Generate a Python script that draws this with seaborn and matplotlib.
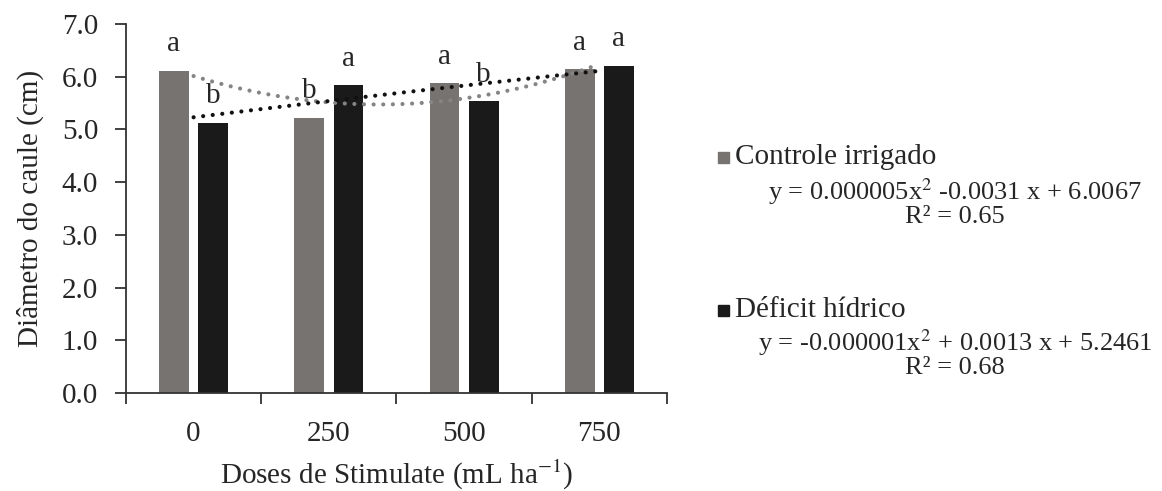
import numpy as np
import pandas as pd
import matplotlib
matplotlib.use("Agg")
import matplotlib.pyplot as plt
from matplotlib.patches import Rectangle
import seaborn as sns

# ---- data ----
doses = ["0", "250", "500", "750"]
controle = [6.11, 5.22, 5.88, 6.14]
deficit = [5.13, 5.84, 5.53, 6.21]
letras_controle = ["a", "b", "a", "a"]
letras_deficit = ["b", "a", "b", "a"]
series_names = ["Controle irrigado", "Déficit hídrico"]
eq_controle = "y = 0.000005x$^{2}$ -0.0031 x + 6.0067"
r2_controle = "R² = 0.65"
eq_deficit = "y = -0.000001x$^{2}$ + 0.0013 x + 5.2461"
r2_deficit = "R² = 0.68"
y_ticks = [0.0, 1.0, 2.0, 3.0, 4.0, 5.0, 6.0, 7.0]

colors = ["#777371", "#1a1a1a"]
trend_colors = ["#858585", "#111111"]

sns.set_theme(style="white")
plt.rcParams["font.family"] = ["Liberation Serif", "DejaVu Serif"]
plt.rcParams["mathtext.fontset"] = "stix"

df = pd.DataFrame({
    "dose": doses * 2,
    "valor": controle + deficit,
    "serie": [series_names[0]] * 4 + [series_names[1]] * 4,
})

fig = plt.figure(figsize=(11.62, 4.91), dpi=100)
ax = fig.add_axes([0.1084, 0.1996, 0.4656, 0.7515])

sns.barplot(data=df, x="dose", y="valor", hue="serie", palette=colors,
            width=0.58, gap=0.24, ax=ax, legend=False, errorbar=None,
            saturation=1, linewidth=0)

# letters above bars
off = 0.58 / 4
for i in range(len(doses)):
    ax.annotate(letras_controle[i], (i - off, controle[i]), xytext=(0, 14),
                textcoords="offset points", ha="center", va="baseline", fontsize=21)
    ax.annotate(letras_deficit[i], (i + off, deficit[i]), xytext=(0, 14),
                textcoords="offset points", ha="center", va="baseline", fontsize=21)

# polynomial trend lines (order 2) over category positions
xpos = np.arange(len(doses))
xs = np.linspace(0, len(doses) - 1, 200)
for vals, c in zip([controle, deficit], trend_colors):
    coef = np.polyfit(xpos, vals, 2)
    ax.plot(xs, np.polyval(coef, xs), color=c, lw=3.0,
            linestyle=(0, (0.01, 2.3)), dash_capstyle="round", zorder=5)

ax.set_xlim(-0.5, len(doses) - 0.5)
ax.set_ylim(0, 7)
ax.set_yticks(y_ticks)
ax.set_yticklabels([f"{v:.1f}" for v in y_ticks], fontsize=21)
ax.set_xticks(xpos)
ax.set_xticklabels(doses, fontsize=21)
ax.set_xticks(np.arange(-0.5, len(doses), 1.0), minor=True)
ax.tick_params(axis="x", which="major", length=0, pad=20)
ax.tick_params(axis="x", which="minor", length=8, width=1.3, direction="out",
               bottom=True, color="#333333")
ax.tick_params(axis="y", length=8, width=1.3, direction="out", left=True,
               color="#333333", pad=12)

for s in ["top", "right"]:
    ax.spines[s].set_visible(False)
for s in ["left", "bottom"]:
    ax.spines[s].set_color("#333333")
    ax.spines[s].set_linewidth(1.3)

ax.set_xlabel("Doses de Stimulate (mL ha$^{-1}$)", fontsize=21, labelpad=8)
ax.set_ylabel("Diâmetro do caule (cm)", fontsize=21, labelpad=13)

# custom legend with equations
W, H = 1162, 491
def fx(px):
    return px / W
def fy(py):
    return 1 - py / H

sq = 11
for name, col, ytxt, eq, r2, yeq, yr2 in [
    (series_names[0], colors[0], 157, eq_controle, r2_controle, 200, 223),
    (series_names[1], colors[1], 310, eq_deficit, r2_deficit, 351, 374),
]:
    fig.patches.append(Rectangle((fx(718), fy(ytxt + sq / 2)), sq / W, sq / H,
                                 transform=fig.transFigure, color=col))
    fig.text(fx(735), fy(ytxt), name, fontsize=21, va="center", ha="left")
    fig.text(fx(955), fy(yeq), eq, fontsize=19, va="baseline", ha="center")
    fig.text(fx(955), fy(yr2), r2, fontsize=19, va="baseline", ha="center")

fig.savefig("out.png", dpi=100)
